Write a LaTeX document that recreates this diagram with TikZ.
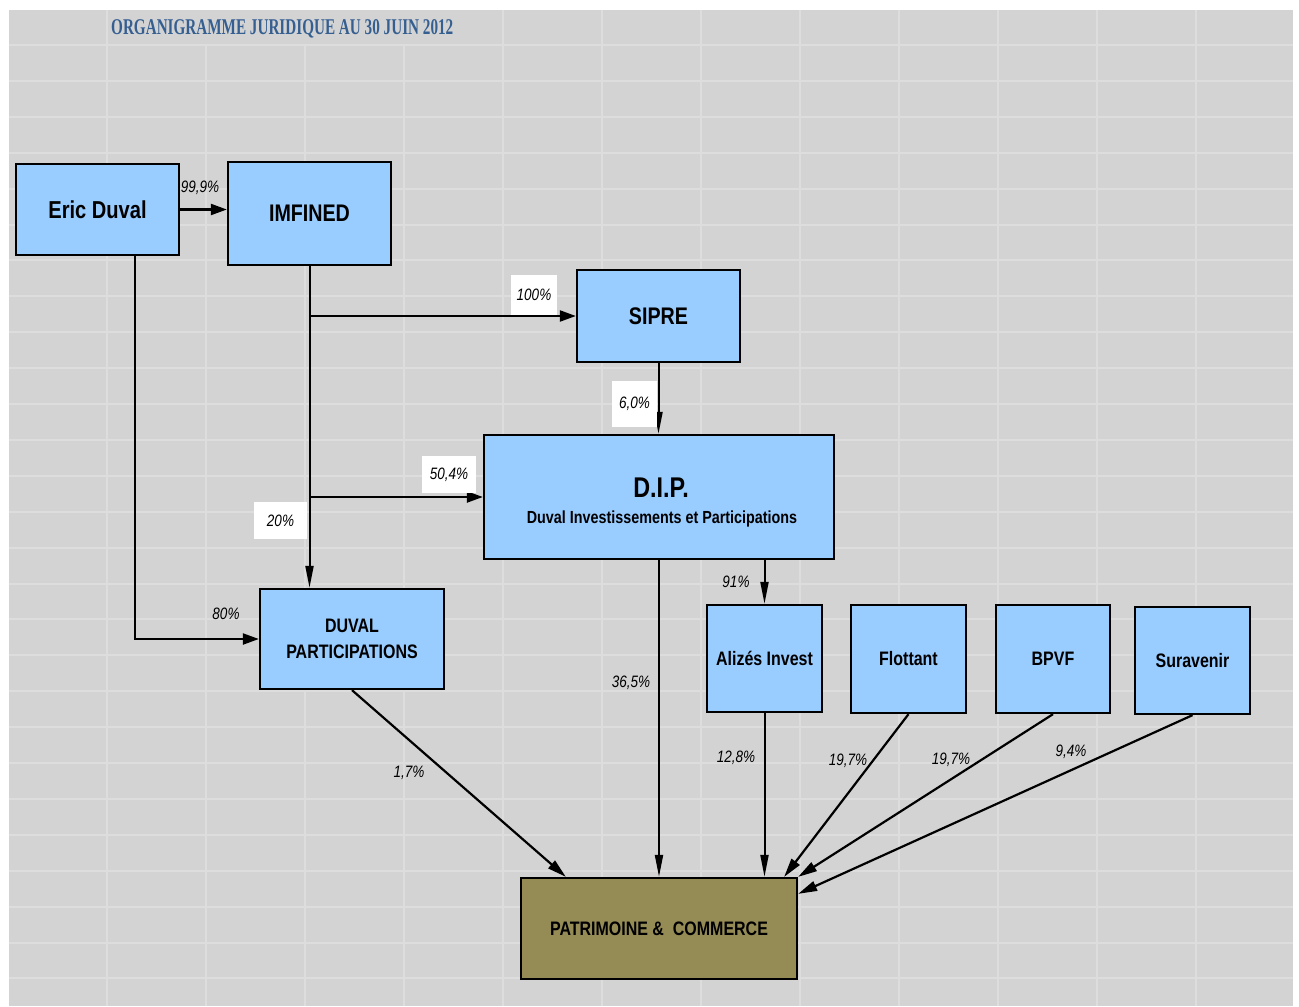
\documentclass[tikz,border=0pt]{standalone}
\usepackage{fontspec}
\setmainfont{Liberation Sans}[FakeStretch=0.82]
\newfontfamily\titlefont{Liberation Serif}[FakeStretch=0.675]
\usetikzlibrary{arrows.meta,calc}
\definecolor{bgc}{RGB}{211,211,211}
\definecolor{gridc}{RGB}{221,221,221}
\definecolor{boxblue}{RGB}{153,204,255}
\definecolor{olivebox}{RGB}{149,139,85}
\definecolor{titleblue}{RGB}{54,95,145}
\begin{document}
\begin{tikzpicture}[x=1pt,y=-1pt,
  ent/.style={draw=black,line width=2.3pt,fill=boxblue,inner sep=0pt,align=center,font=\bfseries},
  ln/.style={line width=2pt},
  harr/.style={line width=2.2pt,-{Triangle[length=16pt,width=11pt]}},
  varr/.style={line width=2pt,-{Triangle[length=22pt,width=8pt]}},
  darr/.style={line width=2.2pt,-{Triangle[length=19pt,width=10pt]}},
  pct/.style={font=\itshape\fontsize{16.5}{18}\selectfont,inner sep=0pt},
  pctbox/.style={pct,fill=white}]
% page and sheet background
\fill[white] (0,0) rectangle (1299,1006);
\fill[bgc] (9,10) rectangle (1293,1006);
\foreach \j in {0,...,26} \draw[gridc,line width=2pt] (9,{45+\j*35.9}) -- (1293,{45+\j*35.9});
\foreach \k in {0,...,11} \draw[gridc,line width=2pt] ({107+\k*99},45) -- ({107+\k*99},1006);
\foreach \k in {0,4,5,6,7,8,9,10,11} \draw[gridc,line width=2pt] ({107+\k*99},10) -- ({107+\k*99},45);
% title
\node[anchor=base west,inner sep=0pt,text=titleblue,font=\titlefont\bfseries\fontsize{22.5}{24}\selectfont] (title) at (111,34) {ORGANIGRAMME JURIDIQUE AU 30 JUIN 2012};
% entities
\node[ent,minimum width=163pt,minimum height=91pt,font=\bfseries\fontsize{24.5}{26}\selectfont] (eric) at (97.5,209.5) {Eric Duval};
\node[ent,minimum width=163pt,minimum height=103pt,font=\bfseries\fontsize{24}{26}\selectfont] (imf) at (309.5,213.5) {IMFINED};
\node[ent,minimum width=163pt,minimum height=92pt,font=\bfseries\fontsize{24}{26}\selectfont] (sipre) at (658.5,316) {SIPRE};
\node[ent,minimum width=350pt,minimum height=124pt] (dip) at (659,497) {};
\node[anchor=base,inner sep=0pt,font=\bfseries\fontsize{28.5}{30}\selectfont] (dipa) at (661,497) {D.I.P.};
\node[anchor=base,inner sep=0pt,font=\bfseries\fontsize{17.5}{20}\selectfont] (dipb) at (662,523) {Duval\ Investissements et Participations};
\node[ent,minimum width=184pt,minimum height=100pt,font=\bfseries\fontsize{19.5}{26}\selectfont] (dp) at (352,639) {DUVAL\\PARTICIPATIONS};
\node[ent,minimum width=115pt,minimum height=107pt,font=\bfseries\fontsize{19.5}{22}\selectfont] (aliz) at (764.5,658.5) {Aliz\'es Invest};
\node[ent,minimum width=115pt,minimum height=108pt,font=\bfseries\fontsize{19.5}{22}\selectfont] (flot) at (908.5,659) {Flottant};
\node[ent,minimum width=114pt,minimum height=108pt,font=\bfseries\fontsize{19.5}{22}\selectfont] (bpvf) at (1053,659) {BPVF};
\node[ent,minimum width=115pt,minimum height=107pt,font=\bfseries\fontsize{19.5}{22}\selectfont] (sur) at (1192.5,660.5) {Suravenir};
\node[ent,fill=olivebox,minimum width=276pt,minimum height=101pt,font=\bfseries\fontsize{19.5}{22}\selectfont] (pc) at (659,928.5) {PATRIMOINE\ \& \ COMMERCE};
% connectors
\coordinate (j1) at (imf.south |- sipre.west);
\coordinate (j2) at (imf.south |- dip.west);
\draw[harr] (eric.east) -- (eric.east -| imf.west);
\draw[varr] (imf.south) -- (imf.south |- dp.north);
\draw[harr] (j1) -- (sipre.west);
\draw[harr] (j2) -- (dip.west);
\draw[varr] (sipre.south) -- (sipre.south |- dip.north);
\draw[harr] ([xshift=37.5pt]eric.south) |- (dp.west);
\draw[varr] (aliz.north |- dip.south) -- (aliz.north);
\draw[varr] (dip.south) -- (pc.north);
\draw[darr] (dp.south) -- ([xshift=46pt]pc.north west);
\draw[varr] (aliz.south) -- (aliz.south |- pc.north);
\draw[darr] (flot.south) -- ([xshift=-14pt]pc.north east);
\draw[darr] (bpvf.south) -- (pc.north east);
\draw[darr] (sur.south) -- ([yshift=-17pt]pc.north east);
% percentages
\node[pct] (l999) at (200,188) {99,9\%};
\node[pctbox,minimum width=46pt,minimum height=40pt] (l100) at (534,295) {100\%};
\node[pctbox,minimum width=54pt,minimum height=37pt] (l504) at (449,474.5) {50,4\%};
\node[pctbox,minimum width=53pt,minimum height=37pt] (l20) at (280.5,520.5) {20\%};
\node[pctbox,minimum width=45pt,minimum height=46pt] (l60) at (634.5,404) {6,0\%};
\node[pct] (l80) at (226,614) {80\%};
\node[pct] (l91) at (736,582) {91\%};
\node[pct] (l365) at (631,683) {36,5\%};
\node[pct] (l17) at (409,773) {1,7\%};
\node[pct] (l128) at (736,758) {12,8\%};
\node[pct] (l197a) at (848,761) {19,7\%};
\node[pct] (l197b) at (951,760) {19,7\%};
\node[pct] (l94) at (1071,752) {9,4\%};
\end{tikzpicture}
\end{document}
